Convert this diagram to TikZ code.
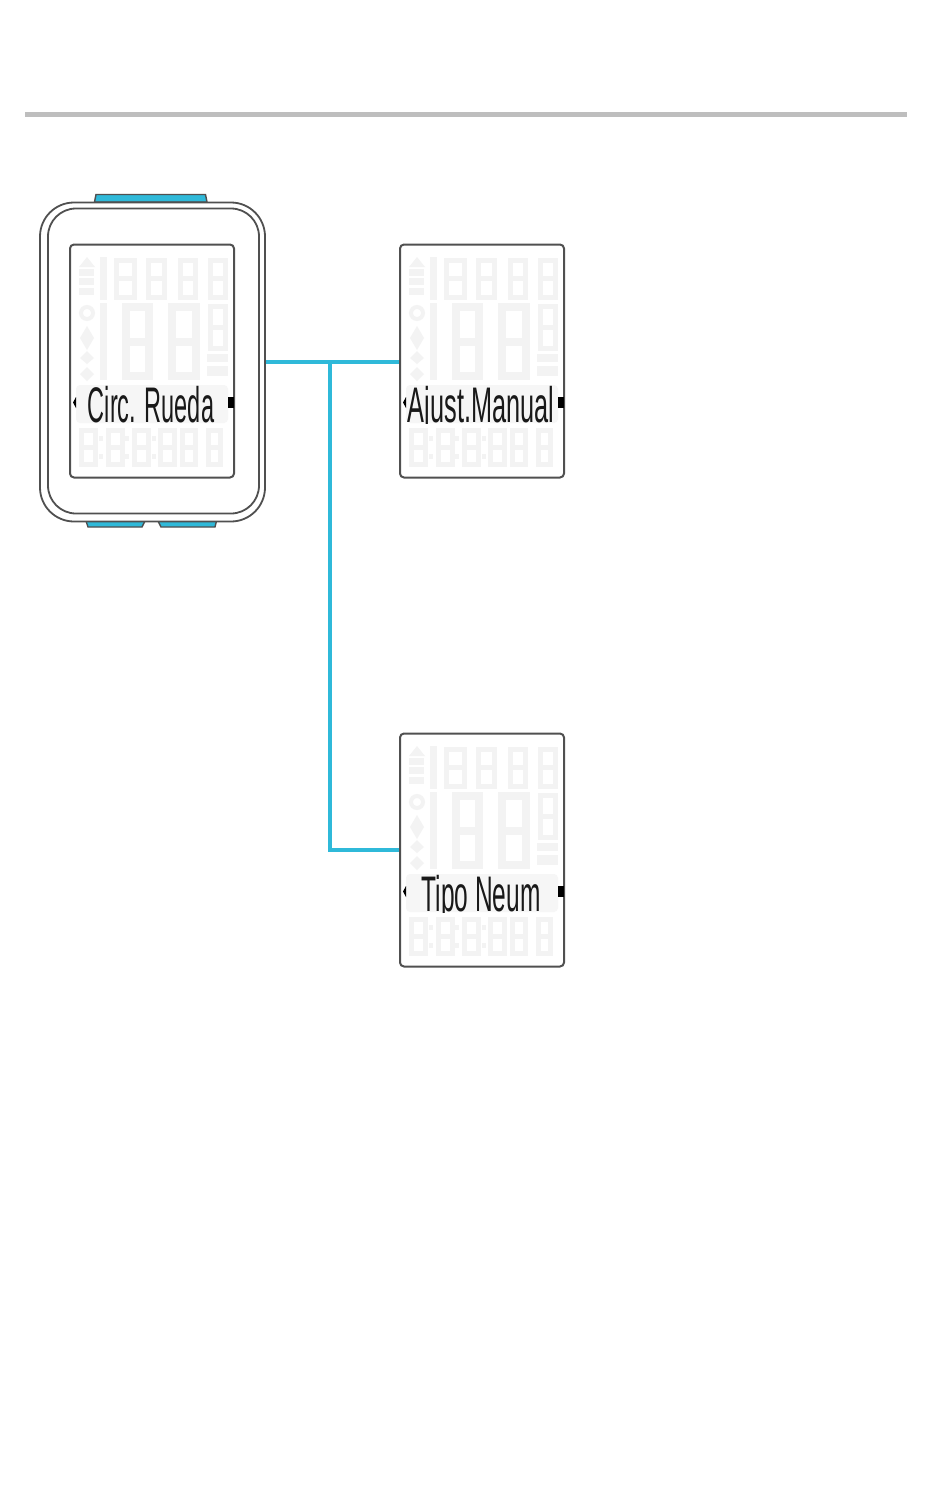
\documentclass[tikz,border=0pt]{standalone}
\usepackage{fontspec}
\usepackage{graphicx}
\setmainfont{Liberation Sans}
\definecolor{wire}{HTML}{2FB9D9}
\definecolor{edge}{HTML}{505050}
\definecolor{ghost}{HTML}{F3F3F3}
\definecolor{band}{HTML}{F6F6F6}
\definecolor{rulegray}{HTML}{BEBEBE}
\tikzset{
  x=1pt,y=-1pt,
  lcdframe/.style={draw=edge,line width=2pt,rounded corners=4pt,minimum width=164pt,minimum height=233pt,inner sep=0pt,fill=white},
  shell/.style={draw=edge,line width=1.8pt,inner sep=0pt},
  btn/.style={draw=edge,line width=1.4pt,fill=wire},
  link/.style={draw=wire,line width=3.6pt},
  seg/.style={draw=ghost,line width=#1},
  seg/.default=5pt,
  gmark/.style={fill=ghost,draw=none},
  lcdtext/.style={anchor=base,inner sep=0pt,text=black!90},
  tickmark/.style={fill=black,draw=none}
}
% digit: outline with a middle bar
\newcommand{\dgt}[5]{%
  \draw[seg=#5] (#1,#2) rectangle (#3,#4);
  \draw[seg=#5] (#1,{(#2+#4)/2}) -- (#3,{(#2+#4)/2});
}
% x0, y0, node name, text, text width, text centre (relative)
\newcommand{\lcd}[6]{%
  \node[lcdframe] (#3) at ({#1+82},{#2+117}) {};
  \begin{scope}[shift={(#1,#2)}]
    % top row
    \fill[gmark] (30,13) rectangle (37,56);
    \dgt{46}{16}{64}{53}{5pt}
    \dgt{78}{16}{94}{53}{5pt}
    \dgt{110}{16}{125}{53}{5pt}
    \dgt{140}{16}{155}{53}{5pt}
    % top left icons
    \fill[gmark] (17,13) -- (25,23) -- (9,23) -- cycle;
    \foreach \yy in {29,38,48}{\fill[gmark] (9,\yy-4) rectangle (24,\yy+3);}
    % big row
    \fill[gmark] (30,59) rectangle (37,136);
    \dgt{56}{63}{79}{132}{8pt}
    \dgt{102}{63}{126}{132}{8pt}
    \dgt{140}{62}{155}{104}{5pt}
    \fill[gmark] (137,110) rectangle (158,118);
    \fill[gmark] (137,122) rectangle (158,132);
    % left icons
    \draw[seg=4pt] (17,69) circle (6);
    \fill[gmark] (17,82) -- (24,94) -- (17,106) -- (10,94) -- cycle;
    \fill[gmark] (17,107) -- (24,114) -- (17,120) -- (10,114) -- cycle;
    \fill[gmark] (17,123) -- (24,130) -- (17,137) -- (10,130) -- cycle;
    % bottom row
    \dgt{11}{186}{25}{220}{5pt}
    \dgt{38}{186}{52}{220}{5pt}
    \dgt{64}{186}{78}{220}{5pt}
    \dgt{90}{186}{104}{220}{5pt}
    \dgt{112}{186}{125}{220}{5pt}
    \dgt{138}{186}{150}{220}{5pt}
    \foreach \xx in {31,57,84}{\fill[gmark] (\xx-2,192) rectangle (\xx+2,197);
      \fill[gmark] (\xx-2,210) rectangle (\xx+2,215);}
    % banner
    \fill[band,rounded corners=4pt] (6,141) rectangle (158,179);
    % arrows
    \fill[tickmark] (6,153) -- (3,158.5) -- (6,164) -- cycle;
    \fill[tickmark] (158,153) rectangle (164,164);
    % text, cut at the baseline as on the pixel display
    \begin{scope}
      \clip (0,138) rectangle (164,179);
      \node[lcdtext] (#3text) at (#6,178) {\scalebox{#5}[5.0]{#4}};
    \end{scope}
  \end{scope}
}
\begin{document}
\begin{tikzpicture}
\useasboundingbox (0,0) rectangle (950,1502);
\fill[white] (0,0) rectangle (950,1502);
% header rule
\fill[rulegray] (25,112) rectangle (907,117);
% buttons
\draw[btn] (94.5,202) -- (96,194.5) -- (205.5,194.5) -- (207,202) -- cycle;
\draw[btn] (86,521) -- (88,527) -- (142,527) -- (145,521) -- cycle;
\draw[btn] (158,521) -- (161,527) -- (215,527) -- (216.5,521) -- cycle;
% device shell
\node[shell,fill=white,rounded corners=34pt,minimum width=225pt,minimum height=319pt] (device) at (152.5,362) {};
\node[shell,rounded corners=28pt,minimum width=211pt,minimum height=305pt] (inner) at (153.5,361) {};
% displays
\lcd{70}{244}{d1}{Circ. Rueda}{2.35}{81}
\lcd{400}{244}{d2}{Ajust.Manual}{2.53}{81}
\lcd{400}{733}{d3}{Tipo Neum}{2.45}{81}
% connectors
\coordinate (junction) at (330,362);
\draw[link] (device.east) -- (device.east -| d2.west);
\draw[link,line join=miter] (junction) |- (d3.west);
\end{tikzpicture}
\end{document}
